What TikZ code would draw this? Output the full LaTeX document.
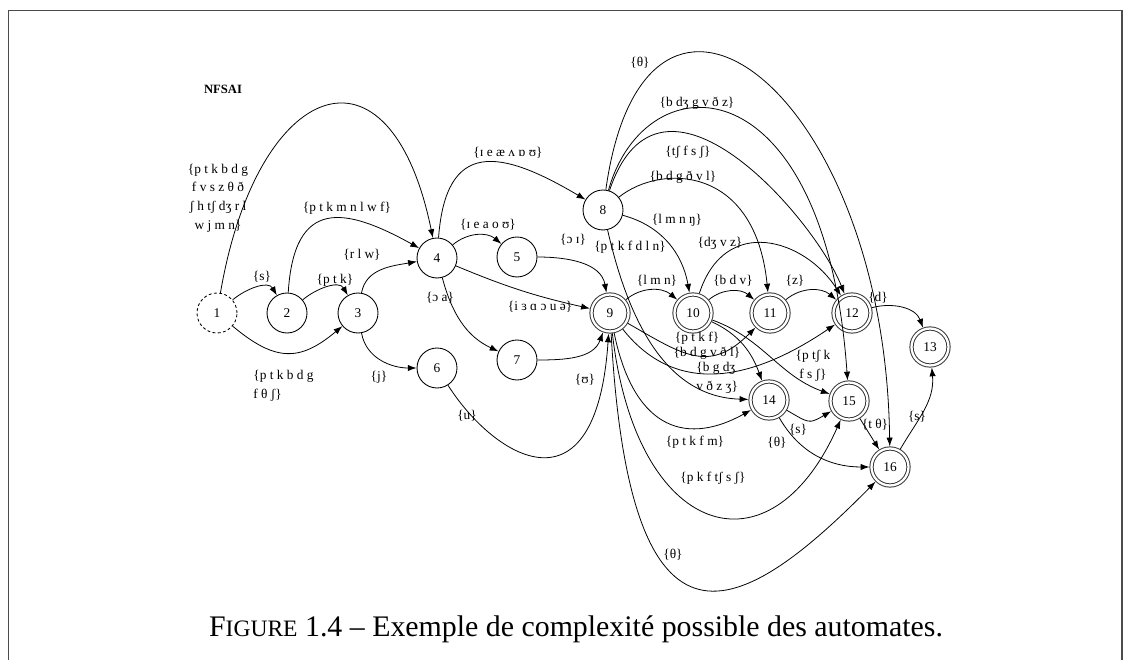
\documentclass[tikz,border=0pt]{standalone}
\usepackage{fontspec}
\setmainfont{Liberation Serif}
\usetikzlibrary{arrows.meta}

\tikzset{
    state/.style={draw,
        circle,
        line width=0.5pt,
        minimum size=0.8cm,
        inner sep=0pt,
        font=\fontsize{7.6}{9}\selectfont
    },
    final/.style={state,
        double,
        double distance=1.3pt,
        line width=0.55pt,
        draw=black!80,
        minimum size=0.74cm,
        outer sep=1.2pt
    },
    trans/.style={-{Latex[length=5pt,width=3.6pt]}, line width=0.45pt},
    lbl/.style={font=\fontsize{7.6}{10.6}\selectfont, inner sep=0pt, align=center},
}

\begin{document}
\begin{tikzpicture}[x=0.02cm, y=0.02cm]
\useasboundingbox (0,0) rectangle (1131,659);

% frame
\draw [line width=0.85pt, black!70] (8.7,-5) -- (8.7,648.5) -- (1122,648.5) -- (1122,-5);

\node (title) [
    font=\fontsize{7.2}{8}\selectfont\bfseries,
    inner sep=0pt
] at (223,570) {NFSAI};

% States 1 - 8
\node (s1) [state,
    dashed,
    dash pattern=on 1.6pt off 1.4pt
] at (217,346) {1};
\node (s2) [state] at (287,346) {2};
\node (s3) [state] at (358,346) {3};
\node (s4) [state] at (437,401) {4};
\node (s5) [state] at (517,402) {5};
\node (s6) [state] at (437,291) {6};
\node (s7) [state] at (517,299) {7};
\node (s8) [state] at (603,449) {8};

% States 9 - 16
\node (s9) [final] at (610,346) {9};
\node (s10) [final] at (693,346) {10};
\node (s11) [final] at (770,346) {11};
\node (s12) [final] at (852,346) {12};
\node (s13) [final] at (930,312) {13};
\node (s14) [final] at (769,259) {14};
\node (s15) [final] at (849,258) {15};
\node (s16) [final] at (890,192) {16};

%-------------------------------------
% 1, 2, 3
\draw [trans] (s1) to[out=40,in=120] (s2);
\draw [trans] (s2) to[out=40,in=120] (s3);
\draw [trans] (s1) .. controls (257,580) and (390,630) .. (s4);
\draw [trans] (s2) .. controls (294,462) and (345,452) .. (s4);
\draw [trans] (s3) to[out=80,in=190] (s4);
\draw [trans] (s1) to[out=-40,in=220,looseness=1.3] (s3);
\draw [trans] (s3) to[out=-80,in=180] (s6);

% 4 - 7
\draw [trans] (s4) to[out=40,in=140] (s5);
\draw [trans] (s4) .. controls (446,520) and (500,510) .. (s8);
\draw [trans] (s4) to[bend right=5] (s9);
\draw [trans] (s4) to[out=-75,in=155] (s7);
\draw [trans] (s5) to[out=0,in=100] (s9);
\draw [trans] (s7) to[out=0,in=250] (s9);
\draw [trans] (s6) .. controls (495,200) and (596,140) .. (s9);

% 8
\draw [trans] (s8) .. controls (645,750) and (885,570) .. (s16);
\draw [trans] (s8) .. controls (645,600) and (825,600) .. (s15);
\draw [trans] (s8) .. controls (660,620) and (815,440) .. (s12);
\draw [trans] (s8) .. controls (660,495) and (755,495) .. (s11);
\draw [trans] (s8) to[out=-15,in=100] (s10);
\draw [trans] (s8) .. controls (628,340) and (665,262) .. (s14);

% 9
\draw [trans] (s9) to[out=40,in=140] (s10);
\draw [trans] (s9) to[out=-30,in=225,looseness=1.3] (s11);
\draw [trans] (s9) .. controls (670,270) and (740,270) .. (s12);
\draw [trans] (s9) .. controls (635,225) and (690,215) .. (s14);
\draw [trans] (s9) .. controls (636,120) and (770,80) .. (s15);
\draw [trans] (s9) .. controls (630,-20) and (740,40) .. (s16);

% 10 - 16
\draw [trans] (s10) to[out=40,in=140] (s11);
\draw [trans] (s11) to[out=40,in=140] (s12);
\draw [trans] (s10) .. controls (725,445) and (805,420) .. (s12);
\draw [trans] (s10) to[out=-25,in=110] (s14);
\draw [trans] (s10) to[out=-20,in=160] (s15);
\draw [trans] (s14) to[out=-30,in=210,looseness=1.5] (s15);
\draw [trans] (s14) to[out=-60,in=180] (s16);
\draw [trans] (s15) -- (s16);
\draw [trans] (s16) to[out=60,in=-85] (s13);
\draw [trans] (s12) to[out=15,in=110] (s13);

%-------------------------------------
% labels
\node (l14) [lbl] at (218,461) {\{p t k b d g\\f v s z θ ð\\ʃ h tʃ dʒ r l\\w j m n\}};
\node (l12) [lbl] at (262,382) {\{s\}};
\node (l23) [lbl] at (335,379) {\{p t k\}};
\node (l24) [lbl] at (347,451) {\{p t k m n l w f\}};
\node (l34) [lbl] at (362,404) {\{r l w\}};
\node (l13) [lbl, align=left, anchor=west] at (253,273) {\{p t k b d g\\f θ ʃ\}};
\node (l36) [lbl] at (379,282) {\{j\}};
\node (l69) [lbl] at (467,243) {\{u\}};
\node (l45) [lbl] at (488,434) {\{ɪ e a o ʊ\}};
\node (l48) [lbl] at (508,506) {\{ɪ e æ ʌ ɒ ʊ\}};
\node (l49) [lbl] at (540,352) {\{i ɜ ɑ ɔ u ə\}};
\node (l47) [lbl] at (440,361) {\{ɔ a\}};
\node (l59) [lbl] at (573,419) {\{ɔ ɪ\}};
\node (l79) [lbl] at (585,279) {\{ʊ\}};

\node (l816) [lbl] at (640,596) {\{θ\}};
\node (l815) [lbl] at (697,556) {\{b dʒ g v ð z\}};
\node (l812) [lbl] at (688,507) {\{tʃ f s ʃ\}};
\node (l811) [lbl] at (683,482) {\{b d g ð v l\}};
\node (l810) [lbl] at (677,439) {\{l m n ŋ\}};
\node (l814) [lbl] at (630,412) {\{p t k f d l n\}};

\node (l910) [lbl] at (657,378) {\{l m n\}};
\node (l1011) [lbl] at (733,378) {\{b d v\}};
\node (l1112) [lbl] at (795,378) {\{z\}};
\node (l1012) [lbl] at (720,416) {\{dʒ v z\}};
\node (l1213) [lbl] at (878,361) {\{d\}};
\node (l1014) [lbl] at (697,321) {\{p t k f\}};
\node (l911) [lbl] at (707,306) {\{b d g v ð l\}};
\node (l912) [lbl, align=left, anchor=west] at (696,281) {\{b g dʒ\\v ð z ʒ\}};
\node (l1015) [lbl] at (813,293) {\{p tʃ k\\f s ʃ\}};
\node (l914) [lbl] at (695,217) {\{p t k f m\}};
\node (l915) [lbl] at (713,181) {\{p k f tʃ s ʃ\}};
\node (l916) [lbl] at (673,104) {\{θ\}};
\node (l1415) [lbl] at (798,229) {\{s\}};
\node (l1416) [lbl] at (777,216) {\{θ\}};
\node (l1516) [lbl] at (875,234) {\{t θ\}};
\node (l1613) [lbl] at (917,242) {\{s\}};

% caption
\node (caption) [
    font=\fontsize{17}{20}\selectfont,
    inner sep=0pt
] at (576,30) {F{\fontsize{13.4}{16}\selectfont IGURE} 1.4 – Exemple de complexité possible des automates.};

\end{tikzpicture}
\end{document}
